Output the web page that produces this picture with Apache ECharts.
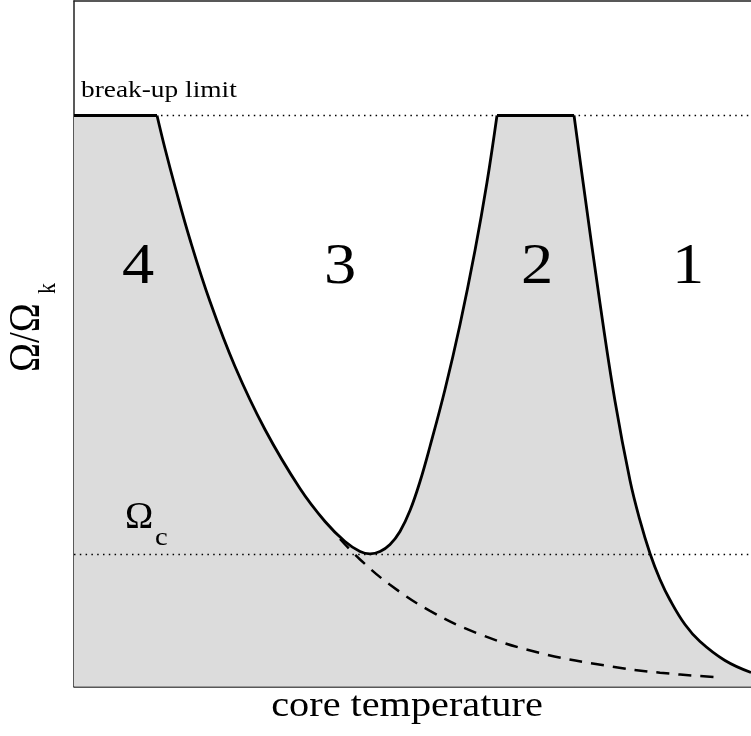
<!DOCTYPE html>
<html>
<head>
<meta charset="utf-8">
<script src="https://cdn.jsdelivr.net/npm/echarts@6/dist/echarts.min.js"></script>
<style>
html,body{margin:0;padding:0;background:#fff;}
#chart{width:751px;height:736px;}
</style>
</head>
<body>
<div id="chart"></div>
<script>
// ---- data (normalised units: x = core temperature 0..100, y = Omega/Omega_k 0..100) ----
const breakUp = 83.3;      // break-up limit
const omegaC = 19.35;      // Omega_c
const plateauLeft = [[0, 83.3], [12.26, 83.3]];
const valleyCurve = [
  [12.26, 83.3], [13.44, 78.48], [14.92, 72.94], [17.13, 65.21], [20.09, 56.16],
  [23.78, 46.68], [28.21, 37.49], [33.38, 28.88], [37.08, 24.07], [40.03, 21.15],
  [42.25, 19.69], [43.72, 19.35], [45.20, 19.69], [46.68, 20.71], [48.15, 22.61],
  [49.63, 25.67], [51.11, 29.91], [52.58, 35.01], [54.80, 43.33], [57.02, 52.81],
  [59.23, 63.60], [61.00, 73.52], [62.48, 83.3]
];
const plateauMid = [[62.48, 83.3], [73.86, 83.3]];
const rightCurve = [
  [73.86, 83.3], [75.18, 73.67], [77.70, 55.87], [79.91, 41.65], [82.13, 30.05],
  [83.60, 24.22], [85.08, 19.40], [86.56, 15.61], [88.04, 12.62], [90.25, 9.04],
  [92.47, 6.56], [96.16, 3.79], [100, 2.04]
];
const dashedCurve = [
  [39.29, 21.52], [42.25, 18.53], [46.68, 14.84], [52.58, 11.03], [59.97, 7.61],
  [68.83, 4.89], [78.43, 3.06], [86.56, 2.01], [95.72, 1.31]
];
const regionLabels = ['4', '3', '2', '1'];
const xTitle = 'core temperature';
const breakLabel = 'break-up limit';

// ---- chart ----
const chart = echarts.init(document.getElementById('chart'), null, {renderer: 'canvas'});
const serif = '"Liberation Serif", "Times New Roman", serif';
const fill = '#dcdcdc';
const solid = {color: '#000', width: 2.8};

function areaSeries(data, smooth) {
  return {
    type: 'line', data: data, smooth: smooth ? 0.4 : false,
    showSymbol: false, symbol: 'none', lineStyle: solid,
    areaStyle: {color: fill, opacity: 1}, z: 2, silent: true
  };
}

const regionX = [138, 340, 537, 688];
const graphics = [];
regionLabels.forEach((t, i) => {
  graphics.push({type: 'text', x: regionX[i], y: 268, scaleX: 1.15, z: 10,
    style: {text: t, fontSize: 56, fontFamily: serif, fill: '#000', textAlign: 'center', textVerticalAlign: 'middle'}});
});
graphics.push({type: 'text', x: 81, y: 90.6, scaleX: 1.14, z: 10,
  style: {text: breakLabel, fontSize: 24, fontFamily: serif, fill: '#000', textAlign: 'left', textVerticalAlign: 'middle'}});
graphics.push({type: 'text', x: 407, y: 706.7, scaleX: 1.15, z: 10,
  style: {text: xTitle, fontSize: 35, fontFamily: serif, fill: '#000', textAlign: 'center', textVerticalAlign: 'middle'}});
graphics.push({type: 'text', x: 125, y: 517.7, z: 10,
  style: {text: 'Ω', fontSize: 38, fontFamily: serif, fill: '#000', textAlign: 'left', textVerticalAlign: 'middle'}});
graphics.push({type: 'text', x: 155, y: 538, scaleX: 1.1, z: 10,
  style: {text: 'c', fontSize: 26, fontFamily: serif, fill: '#000', textAlign: 'left', textVerticalAlign: 'middle'}});
graphics.push({type: 'text', x: 27.3, y: 372, rotation: Math.PI / 2, scaleY: 1.15, z: 10,
  style: {text: 'Ω/Ω', fontSize: 39, fontFamily: serif, fill: '#000', textAlign: 'left', textVerticalAlign: 'middle'}});
graphics.push({type: 'text', x: 48.5, y: 294, rotation: Math.PI / 2, scaleY: 1.15, z: 10,
  style: {text: 'k', fontSize: 22, fontFamily: serif, fill: '#000', textAlign: 'left', textVerticalAlign: 'middle'}});

const axisLine = {show: true, lineStyle: {color: '#222', width: 1.5}};
const option = {
  animation: false,
  backgroundColor: '#fff',
  grid: {left: 74, right: 0, top: 1, bottom: 49.5, containLabel: false},
  xAxis: [
    {type: 'value', min: 0, max: 100, position: 'bottom', axisLine: axisLine,
     axisTick: {show: false}, axisLabel: {show: false}, splitLine: {show: false}},
    {type: 'value', min: 0, max: 100, position: 'top', axisLine: axisLine,
     axisTick: {show: false}, axisLabel: {show: false}, splitLine: {show: false}}
  ],
  yAxis: {type: 'value', min: 0, max: 100, axisLine: axisLine,
    axisTick: {show: false}, axisLabel: {show: false}, splitLine: {show: false}},
  series: [
    areaSeries(plateauLeft, false),
    areaSeries(valleyCurve, true),
    areaSeries(plateauMid, false),
    areaSeries(rightCurve, true),
    {
      type: 'line', data: dashedCurve, smooth: 0.4,
      showSymbol: false, symbol: 'none', z: 3, silent: true,
      lineStyle: {color: '#000', width: 2.5, type: [13, 9]},
      markLine: {
        silent: true, symbol: 'none', label: {show: false},
        lineStyle: {color: '#000', width: 1.3, type: [1.5, 4.3]},
        data: [{yAxis: breakUp}, {yAxis: omegaC}]
      }
    }
  ],
  graphic: graphics
};
chart.setOption(option);
</script>
</body>
</html>
